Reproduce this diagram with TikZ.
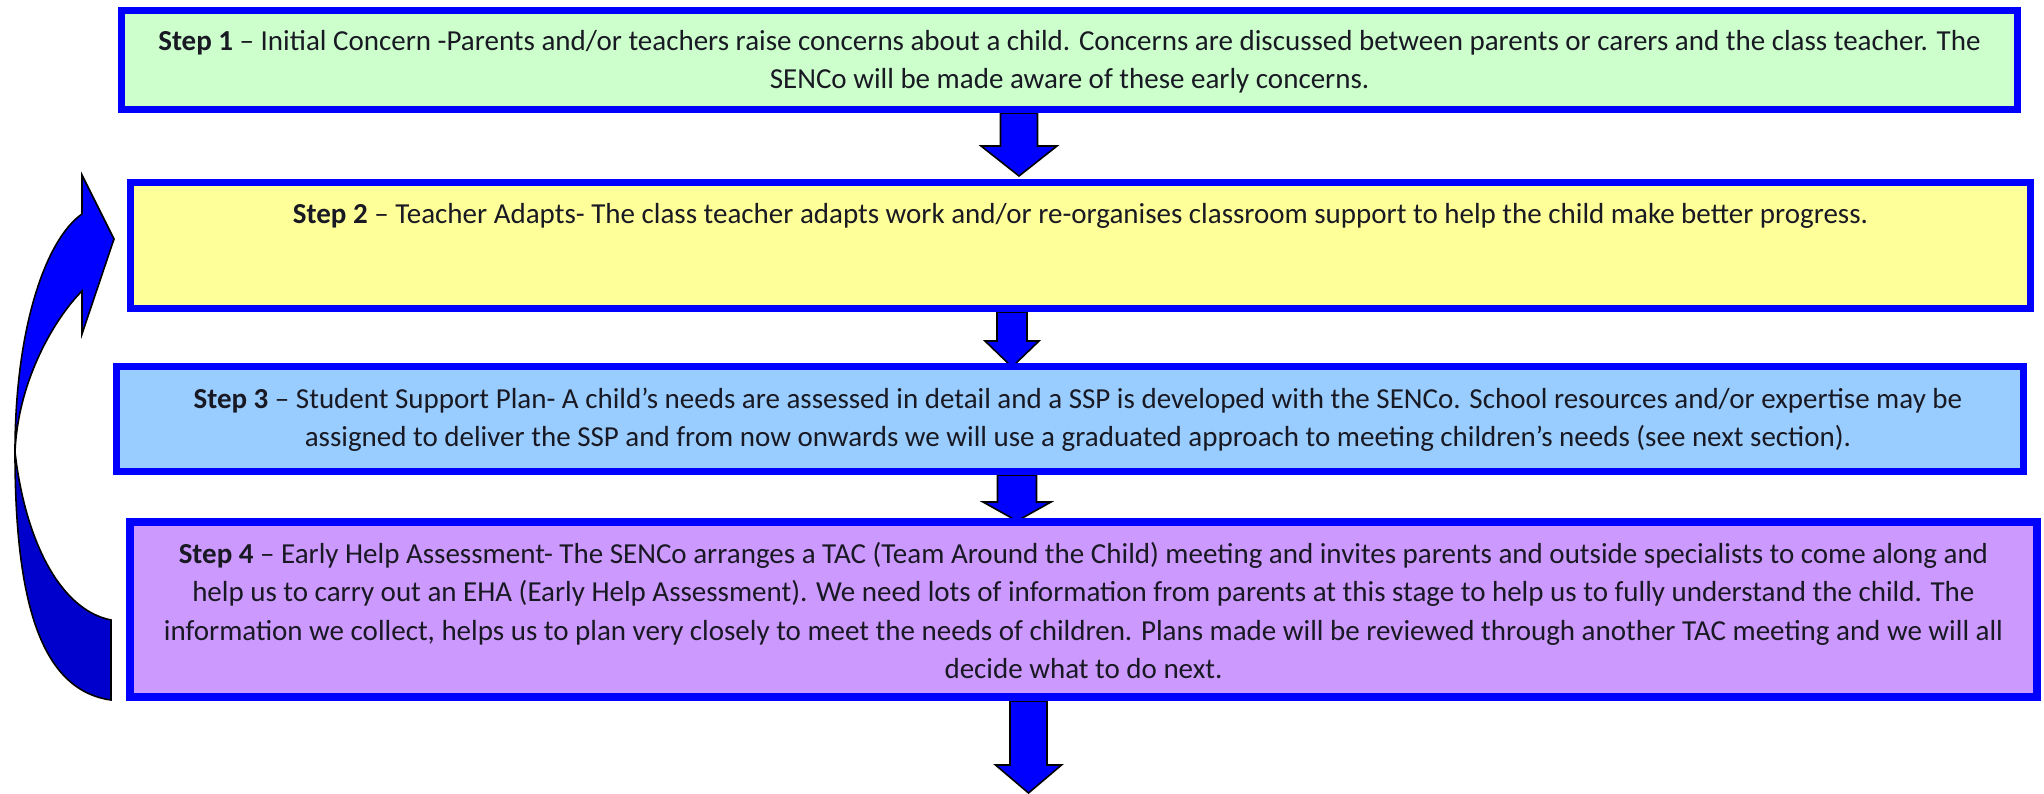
\documentclass[tikz,border=0pt]{standalone}
\usepackage{fontspec}
\setmainfont{Carlito}
\definecolor{boxblue}{RGB}{0,0,255}
\definecolor{fillA}{RGB}{204,255,204}
\definecolor{fillB}{RGB}{255,255,153}
\definecolor{fillC}{RGB}{153,204,255}
\definecolor{fillD}{RGB}{204,153,255}
\definecolor{arrblue}{RGB}{0,0,255}
\definecolor{arrdark}{RGB}{0,0,204}
\definecolor{txt}{RGB}{25,25,35}
\begin{document}
\begin{tikzpicture}[x=1pt,y=-1pt,
  stepbox/.style={draw=boxblue,line width=7pt,inner sep=0pt,outer sep=0pt},
  steptext/.style={anchor=north,align=center,inner sep=0pt,text=txt,font=\fontsize{29}{38.5}\selectfont},
  blockarrow/.style={fill=arrblue,draw=black,line width=1.6pt,line join=miter}]
\useasboundingbox (0,0) rectangle (2044,794);
% down block arrows
\coordinate (a1) at (1000.5,113);
\coordinate (a2) at (997,312);
\coordinate (a3) at (997.5,475);
\coordinate (a4) at (1010,701);
\filldraw[blockarrow] (a1) -- ++(0,33) -- ++(-19.5,0) -- ++(38,30) -- ++(38,-30) -- ++(-19.5,0) -- ++(0,-33) -- cycle;
\filldraw[blockarrow] (a2) -- ++(0,29) -- ++(-12,0) -- ++(27,26) -- ++(27,-26) -- ++(-12,0) -- ++(0,-29) -- cycle;
\filldraw[blockarrow] (a3) -- ++(0,27) -- ++(-14.5,0) -- ++(34,19) -- ++(34,-19) -- ++(-14.5,0) -- ++(0,-27) -- cycle;
\filldraw[blockarrow] (a4) -- ++(0,64) -- ++(-14.5,0) -- ++(33,28) -- ++(33,-28) -- ++(-14.5,0) -- ++(0,-64) -- cycle;
% curved arrow
\coordinate (cm) at (15,452);
\filldraw[blockarrow,fill=arrdark] (cm) .. controls (15,600) and (40,690) .. (111,700) -- (111,620) .. controls (60,610) and (25,540) .. (cm) -- cycle;
\filldraw[blockarrow] (cm) .. controls (15,330) and (45,240) .. (82,214) -- (82,175) -- (114,239) -- (82,334) -- (82,291) .. controls (55,318) and (18,380) .. (cm) -- cycle;
% boxes
\node[stepbox,fill=fillA,minimum width=1896pt,minimum height=99pt] (s1) at (1069.5,60) {};
\node[stepbox,fill=fillB,minimum width=1900pt,minimum height=126pt] (s2) at (1080.5,245.5) {};
\node[stepbox,fill=fillC,minimum width=1907pt,minimum height=105pt] (s3) at (1070,419) {};
\node[stepbox,fill=fillD,line width=8pt,minimum width=1907pt,minimum height=175pt] (s4) at (1083.5,609.5) {};
% texts
\node[steptext] (t1) at (1069.5,23) {\strut\textbf{Step 1} – Initial Concern -Parents and/or teachers raise concerns about a child. Concerns are discussed between parents or carers and the class teacher. The\\SENCo will be made aware of these early concerns.};
\node[steptext] (t2) at (1080.5,196) {\strut\textbf{Step 2} – Teacher Adapts- The class teacher adapts work and/or re-organises classroom support to help the child make better progress.};
\node[steptext] (t3) at (1078,381) {\strut\textbf{Step 3} – Student Support Plan- A child’s needs are assessed in detail and a SSP is developed with the SENCo. School resources and/or expertise may be\\assigned to deliver the SSP and from now onwards we will use a graduated approach to meeting children’s needs (see next section).};
\node[steptext] (t4) at (1083.5,536) {\strut\textbf{Step 4} – Early Help Assessment- The SENCo arranges a TAC (Team Around the Child) meeting and invites parents and outside specialists to come along and\\help us to carry out an EHA (Early Help Assessment). We need lots of information from parents at this stage to help us to fully understand the child. The\\information we collect, helps us to plan very closely to meet the needs of children. Plans made will be reviewed through another TAC meeting and we will all\\decide what to do next.};
\end{tikzpicture}
\end{document}
